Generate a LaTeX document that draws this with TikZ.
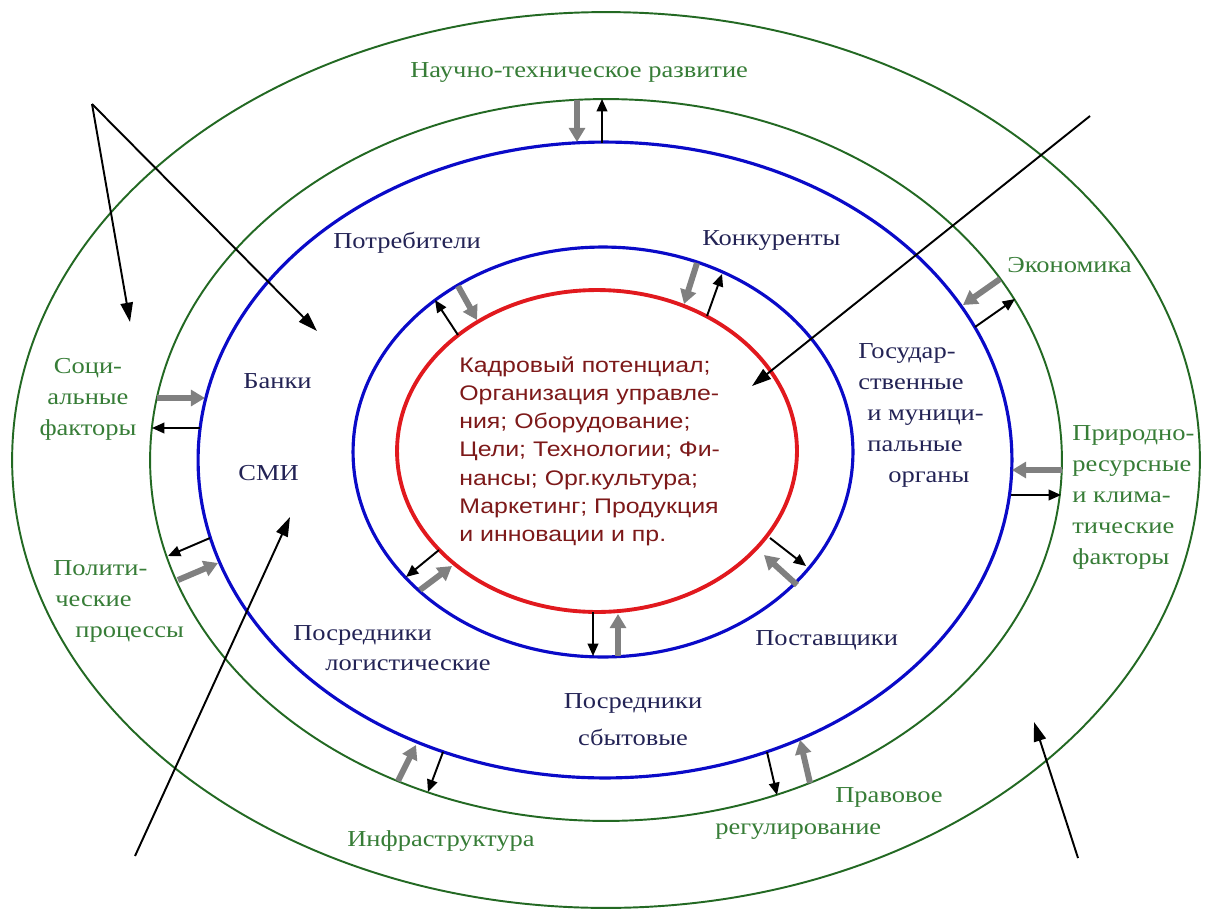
\documentclass[tikz,border=0pt]{standalone}
\usepackage{fontspec}
\setmainfont{Liberation Serif}[FakeStretch=1.16]
\newfontfamily\innerfont{Liberation Sans}[FakeStretch=1.18]
\usetikzlibrary{arrows.meta}
\definecolor{gline}{RGB}{35,105,35}
\definecolor{gtext}{RGB}{55,125,55}
\definecolor{bline}{RGB}{10,10,200}
\definecolor{rline}{RGB}{225,25,30}
\definecolor{ntext}{RGB}{35,35,85}
\definecolor{mtext}{RGB}{125,25,25}
\definecolor{garrow}{RGB}{128,128,128}
\begin{document}
\begin{tikzpicture}[x=0.02cm,y=-0.02cm,
  gring/.style={draw=gline,line width=1.1pt},
  bring/.style={draw=bline,line width=1.8pt},
  rring/.style={draw=rline,line width=2.2pt},
  blk/.style={draw=black,line width=1.1pt,-{Triangle[length=7pt,width=6pt]}},
  gry/.style={draw=garrow,line width=3.4pt,-{Triangle[length=8pt,width=9pt]}},
  longarr/.style={draw=black,line width=1.1pt,-{Triangle[length=11pt,width=7pt]}},
  glab/.style={text=gtext,font=\fontsize{13}{17.7}\selectfont,inner sep=0pt,align=left},
  nlab/.style={text=ntext,font=\fontsize{13}{17.7}\selectfont,inner sep=0pt,align=left},
]
\fill[white] (0,0) rectangle (1209,909);
\useasboundingbox (0,0) rectangle (1209,909);

% rings
\draw[gring] (606,460) ellipse [x radius=11.88cm, y radius=8.96cm];
\draw[gring] (606,460) ellipse [x radius=9.12cm, y radius=7.22cm];
\draw[bring] (605,460) ellipse [x radius=8.14cm, y radius=6.36cm];
\draw[bring] (603,452) ellipse [x radius=5.0cm, y radius=4.1cm];
\draw[rring] (597,451) ellipse [x radius=4.0cm, y radius=3.22cm];

% labels
\node[glab,anchor=north west] (nauka) at (410,62) {Научно-техническое развитие};
\node[nlab,anchor=north west] (potreb) at (333,232) {Потребители};
\node[nlab,anchor=north west] (konk) at (702,230) {Конкуренты};
\node[glab,anchor=north west] (econ) at (1007,257) {Экономика};
\node[glab,anchor=north,align=center] (social) at (88,358) {Соци-\\альные\\факторы};
\node[nlab,anchor=north west] (banki) at (243,373) {Банки};
\node[nlab,anchor=north west] (smi) at (238,465) {СМИ};
\node[glab,anchor=north west] (polit) at (53,560) {Полити-\\\hspace*{0.04cm}ческие\\\hspace*{0.44cm}процессы};
\node[nlab,anchor=north west] (gos) at (858,343) {Государ-\\ственные\\\hspace*{0.18cm}и муници-\\\hspace*{0.18cm}пальные\\\hspace*{0.6cm}органы};
\node[glab,anchor=north west] (prir) at (1072,425) {Природно-\\ресурсные\\и клима-\\тические\\факторы};
\node[text=mtext,font=\innerfont\fontsize{12}{16.1}\selectfont,inner sep=0pt,align=left,anchor=north west] (inner) at (459,356)
  {Кадровый потенциал;\\Организация управле-\\ния; Оборудование;\\Цели; Технологии; Фи-\\нансы; Орг.культура;\\Маркетинг; Продукция\\и инновации и пр.};
\node[nlab,anchor=north west,font=\fontsize{13}{17}\selectfont] (poslog) at (293,625) {Посредники\\\hspace*{0.64cm}логистические};
\node[nlab,anchor=north,align=center,font=\fontsize{13}{21}\selectfont] (possb) at (633,693) {Посредники\\сбытовые};
\node[nlab,anchor=north west] (postav) at (755,630) {Поставщики};
\node[glab,anchor=north west] (infra) at (347,830) {Инфраструктура};
\node[glab,anchor=north west] (pravo1) at (835,787) {Правовое};
\node[glab,anchor=north west] (pravo2) at (715,823) {регулирование};

% arrow end points
\coordinate (t1a) at (577,100); \coordinate (t1b) at (577,142);
\coordinate (t2a) at (602,143); \coordinate (t2b) at (602,99);
\coordinate (e1a) at (1000,279); \coordinate (e1b) at (963,305);
\coordinate (e2a) at (975,327); \coordinate (e2b) at (1015,299);
\coordinate (p1a) at (1062,470); \coordinate (p1b) at (1012,470);
\coordinate (p2a) at (1011,495); \coordinate (p2b) at (1061,495);
\coordinate (s1a) at (157,398); \coordinate (s1b) at (205,398);
\coordinate (s2a) at (200,428); \coordinate (s2b) at (152,428);
\coordinate (l1a) at (210,538); \coordinate (l1b) at (168,556);
\coordinate (l2a) at (178,580); \coordinate (l2b) at (218,563);
\coordinate (i1a) at (398,781); \coordinate (i1b) at (416,745);
\coordinate (i2a) at (443,752); \coordinate (i2b) at (428,792);
\coordinate (r1a) at (767,752); \coordinate (r1b) at (777,795);
\coordinate (r2a) at (810,783); \coordinate (r2b) at (800,740);
% inner ring
\coordinate (a1a) at (458,335); \coordinate (a1b) at (435,300);
\coordinate (a2a) at (458,286); \coordinate (a2b) at (477,320);
\coordinate (k1a) at (697,263); \coordinate (k1b) at (684,304);
\coordinate (k2a) at (707,316); \coordinate (k2b) at (722,274);
\coordinate (b1a) at (439,550); \coordinate (b1b) at (406,577);
\coordinate (b2a) at (420,590); \coordinate (b2b) at (452,566);
\coordinate (c1a) at (593,612); \coordinate (c1b) at (593,656);
\coordinate (c2a) at (618,656); \coordinate (c2b) at (618,614);
\coordinate (d1a) at (770,538); \coordinate (d1b) at (806,566);
\coordinate (d2a) at (797,585); \coordinate (d2b) at (764,555);
% long arrows
\coordinate (apex) at (92,104);
\coordinate (la1) at (130,322); \coordinate (la2) at (317,331);
\coordinate (nes) at (1090,116); \coordinate (nee) at (752,386);
\coordinate (sws) at (135,856); \coordinate (swe) at (290,517);
\coordinate (ses) at (1078,858); \coordinate (see) at (1034,722);

\foreach \g in {t1,e1,p1,s1,l2,i1,r2,a2,k1,b2,c2,d2}{\draw[gry] (\g a) -- (\g b);}
\foreach \b in {t2,e2,p2,s2,l1,i2,r1,a1,k2,b1,c1,d1}{\draw[blk] (\b a) -- (\b b);}

\draw[longarr] (apex) -- (la1);
\draw[longarr] (apex) -- (la2);
\draw[longarr] (nes) -- (nee);
\draw[longarr] (sws) -- (swe);
\draw[longarr] (ses) -- (see);
\end{tikzpicture}
\end{document}
